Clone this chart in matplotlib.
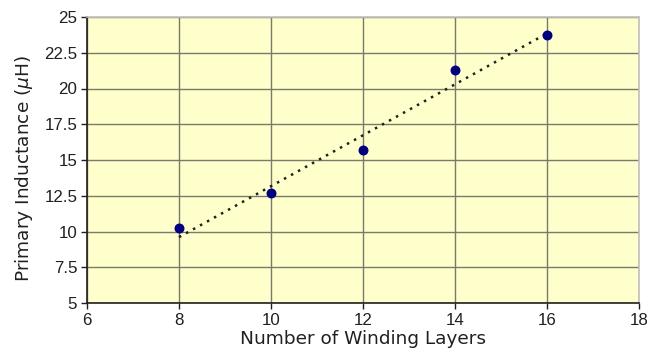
import matplotlib
matplotlib.use("Agg")
import matplotlib.pyplot as plt
import numpy as np

layers = [8, 10, 12, 14, 16]
inductance = [10.25, 12.67, 15.7, 21.27, 23.76]
xticks = [6, 8, 10, 12, 14, 16, 18]
yticks = [5, 7.5, 10, 12.5, 15, 17.5, 20, 22.5, 25]
ytick_labels = ["5", "7.5", "10", "12.5", "15", "17.5", "20", "22.5", "25"]

fig = plt.figure(figsize=(6.63, 3.58), dpi=100)
ax = fig.add_axes([87/663, 1-303/358, (639-87)/663, (303-17)/358])
ax.set_facecolor("#FFFFCC")

ax.set_xlim(6, 18)
ax.set_ylim(5, 25)
ax.set_xticks(xticks)
ax.set_xticklabels([str(t) for t in xticks])
ax.set_yticks(yticks)
ax.set_yticklabels(ytick_labels)
ax.grid(True, color="#7a7a6a", linewidth=1.0)
ax.set_axisbelow(True)

coef = np.polyfit(layers, inductance, 1)
xf = np.array([layers[0], layers[-1]])
ax.plot(xf, np.polyval(coef, xf), linestyle=(0, (1, 2.2)), color="#202020", linewidth=1.8, zorder=3)
ax.scatter(layers, inductance, s=38, color="#000080", zorder=4)

for s in ["top", "right"]:
    ax.spines[s].set_color("#c0c0c0")
    ax.spines[s].set_linewidth(1.2)
for s in ["left", "bottom"]:
    ax.spines[s].set_color("#202020")
    ax.spines[s].set_linewidth(1.2)

ax.tick_params(axis="both", direction="out", length=4, width=1, color="#202020",
               labelsize=12.2, labelcolor="#202020", pad=3)
for lbl in ax.get_xticklabels() + ax.get_yticklabels():
    lbl.set_fontfamily("Liberation Sans")
ax.set_xlabel("Number of Winding Layers", fontsize=13.3, color="#202020", labelpad=2)
ax.set_ylabel("Primary Inductance ($\\mu$H)", fontsize=13.3, color="#202020")
ax.yaxis.set_label_coords(-0.095, 0.47)

fig.savefig("out.png", dpi=100)
